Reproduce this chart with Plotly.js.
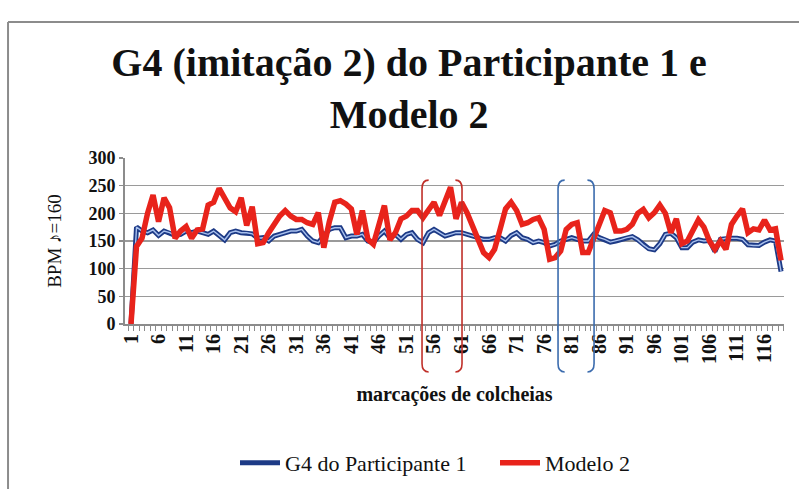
<!DOCTYPE html>
<html>
<head>
<meta charset="utf-8">
<script src="https://cdn.plot.ly/plotly-3.0.1.min.js"></script>
<style>
  html, body { margin: 0; padding: 0; background: #ffffff; }
  #chart { width: 799px; height: 489px; }
</style>
</head>
<body>
<div id="chart"></div>
<script>
// ---- data ----
const seriesNames = ["G4 do Participante 1", "Modelo 2"];

const participante = [
  0,175,168,165,170,160,168,165,160,162,
  168,165,168,165,162,168,160,152,165,168,
  165,165,163,155,156,150,159,162,165,168,
  168,171,159,150,147,159,171,174,174,156,
  159,159,162,150,147,159,168,156,162,153,
  162,165,153,147,165,171,165,159,162,165,
  165,162,159,156,153,153,156,156,150,160,
  165,156,153,147,150,147,141,144,150,153,
  156,153,150,150,162,156,153,148,150,153,
  156,158,152,143,136,134,145,162,164,156,
  138,138,148,152,150,151,131,153,155,155,
  155,153,143,142,142,148,152,150,95
];

const modelo = [
  0,140,155,200,233,185,228,210,155,168,
  176,155,170,172,215,220,245,228,210,203,
  228,178,212,145,147,165,180,195,205,195,
  189,189,183,180,201,138,185,220,223,217,
  208,162,205,153,144,177,214,152,165,190,
  195,205,205,192,205,220,196,220,247,190,
  220,201,177,153,129,120,135,171,208,220,
  205,180,183,189,192,171,117,120,132,171,
  180,183,129,129,153,183,205,201,168,168,
  171,180,200,207,192,201,215,200,165,190,
  145,150,170,188,175,150,135,150,135,180,
  195,208,165,172,170,188,170,172,115
];

const tickLabels = ["1","6","11","16","21","26","31","36","41","46","51","56","61","66","71","76","81","86","91","96","101","106","111","116"];
const yTicks = [0,50,100,150,200,250,300];

const chartTitle = "G4 (imitação 2) do Participante 1 e<br>Modelo 2";

// bracket markers (category positions)
const redBrackets = [53.83, 61.09];
const blueBrackets = [78.52, 85.06];

// ---- build ----
const beats = participante.map((_, i) => i + 1);
const tickVals = tickLabels.map(Number);

const SERIF = "Liberation Serif, serif";

const traces = [
  {
    x: beats, y: participante, type: "scatter", mode: "lines",
    name: seriesNames[0], legendgroup: "g4",
    line: { color: "#1d3a86", width: 5 },
    hoverinfo: "x+y"
  },
  {
    x: beats, y: participante, type: "scatter", mode: "lines",
    name: seriesNames[0], legendgroup: "g4", showlegend: false,
    line: { color: "#a9c1ee", width: 1.4 },
    hoverinfo: "skip"
  },
  {
    x: beats, y: modelo, type: "scatter", mode: "lines",
    name: seriesNames[1],
    line: { color: "#e8231b", width: 5.5 },
    hoverinfo: "x+y"
  }
];

function openBracket(x, color) {
  return {
    type: "path", xref: "x", yref: "paper", layer: "above",
    path: `M ${x + 1.2} 0.867 Q ${x} 0.867 ${x} 0.815 L ${x} -0.24 Q ${x} -0.289 ${x + 1.2} -0.289`,
    line: { color: color, width: 1.6 }
  };
}
function closeBracket(x, color) {
  return {
    type: "path", xref: "x", yref: "paper", layer: "above",
    path: `M ${x - 1.2} 0.867 Q ${x} 0.867 ${x} 0.815 L ${x} -0.24 Q ${x} -0.289 ${x - 1.2} -0.289`,
    line: { color: color, width: 1.6 }
  };
}

const shapes = [
  openBracket(redBrackets[0], "#c0302a"),
  closeBracket(redBrackets[1], "#c0302a"),
  openBracket(blueBrackets[0], "#3c6cae"),
  closeBracket(blueBrackets[1], "#3c6cae"),
  // outer chart frame (top and left edges)
  { type: "line", xref: "paper", yref: "paper", x0: -0.1775, x1: 1.1, y0: 1.819, y1: 1.819,
    line: { color: "#8c8c8c", width: 2 } },
  { type: "line", xref: "paper", yref: "paper", x0: -0.1775, x1: -0.1775, y0: 1.819, y1: -1.2,
    line: { color: "#8c8c8c", width: 2 } }
];

const layout = {
  width: 799, height: 489,
  margin: { l: 125, r: 15, t: 158, b: 165 },
  paper_bgcolor: "#ffffff", plot_bgcolor: "#ffffff",
  font: { family: SERIF, color: "#111111" },
  title: {
    text: chartTitle,
    font: { family: SERIF, size: 40, color: "#111111", weight: "bold" },
    xref: "container", x: 0.512, xanchor: "center",
    yref: "container", y: 1 - 76 / 489, yanchor: "middle"
  },
  showlegend: true,
  legend: {
    orientation: "h",
    xref: "container", x: 495 / 799, xanchor: "center",
    yref: "container", y: 1 - 463 / 489, yanchor: "middle",
    font: { family: SERIF, size: 22, color: "#111111" },
    traceorder: "normal",
    itemwidth: 40,
    entrywidth: 205, entrywidthmode: "pixels"
  },
  xaxis: {
    type: "linear",
    range: [-0.09, 119.54],
    tickmode: "array", tickvals: tickVals, ticktext: tickLabels,
    tickangle: -90,
    ticks: "",
    tickfont: { family: SERIF, size: 20, color: "#111111", weight: "bold" },
    showgrid: false, zeroline: false,
    showline: true, linecolor: "#8c8c8c", linewidth: 2,
    minor: { tickmode: "linear", tick0: 0.5, dtick: 1, ticks: "outside", ticklen: 5, tickcolor: "#8c8c8c", tickwidth: 1, showgrid: false },
    title: {
      text: "marcações de colcheias",
      font: { family: SERIF, size: 20, color: "#111111", weight: "bold" },
      standoff: 24
    },
    automargin: false,
    fixedrange: true
  },
  yaxis: {
    range: [0, 300],
    tickmode: "array", tickvals: yTicks, ticktext: yTicks.map(String),
    ticks: "outside", ticklen: 4, tickcolor: "#8c8c8c", tickwidth: 1.5,
    tickfont: { family: SERIF, size: 18, color: "#111111", weight: "bold" },
    showgrid: true, gridcolor: "#9a9a9a", gridwidth: 1.6,
    zeroline: false,
    showline: true, linecolor: "#8c8c8c", linewidth: 2,
    title: {
      text: "BPM ♪=160",
      font: { family: SERIF, size: 19, color: "#111111" },
      standoff: 22
    },
    automargin: false,
    fixedrange: true
  },
  shapes: shapes
};

Plotly.newPlot("chart", traces, layout, { displayModeBar: false, staticPlot: true });
</script>
</body>
</html>
